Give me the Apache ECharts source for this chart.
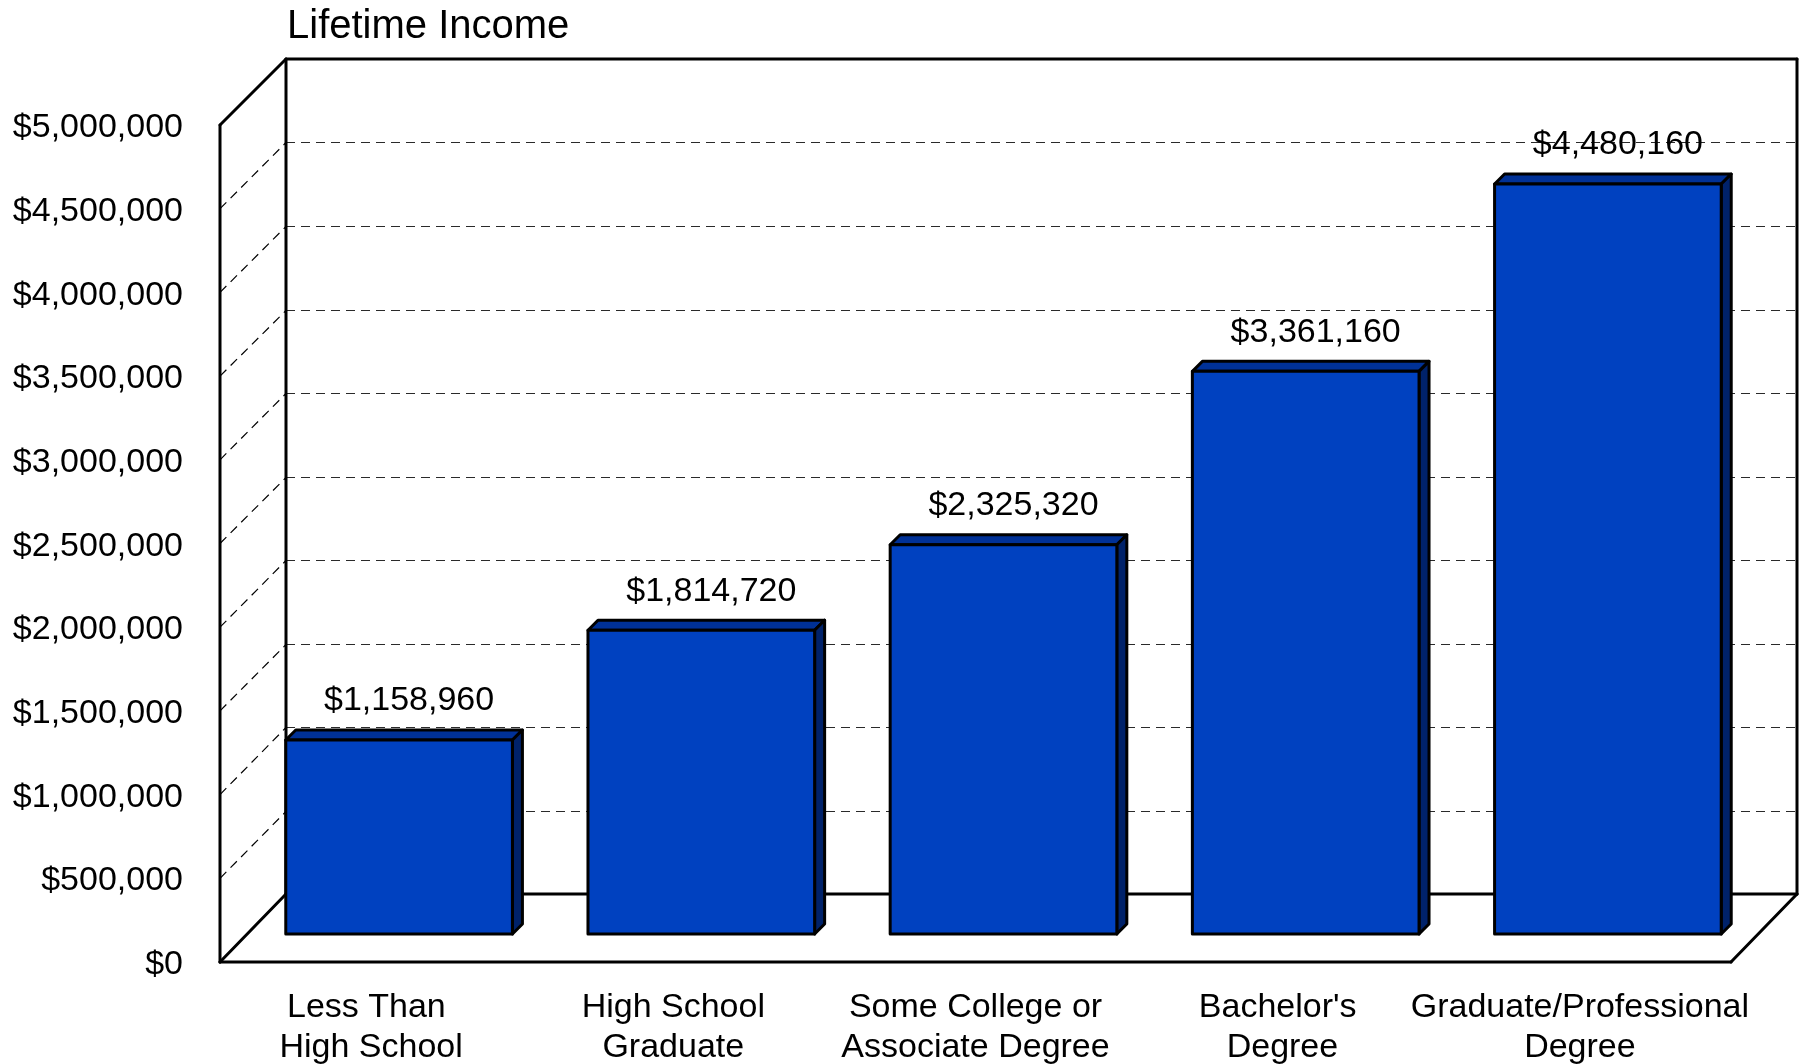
<!DOCTYPE html>
<html>
<head>
<meta charset="utf-8">
<style>html,body{margin:0;padding:0;background:#fff}#c{width:1804px;height:1064px}</style>
<script src="https://cdn.jsdelivr.net/npm/echarts@6/dist/echarts.min.js"></script>
</head>
<body>
<div id="c"></div>
<script>
const categories = ["Less Than \nHigh School", "High School\nGraduate", "Some College or\nAssociate Degree", "Bachelor's\n Degree", "Graduate/Professional\nDegree"];
const values = [1158960, 1814720, 2325320, 3361160, 4480160];
const valueLabels = ["$1,158,960", "$1,814,720", "$2,325,320", "$3,361,160", "$4,480,160"];
const yTicks = [0, 500000, 1000000, 1500000, 2000000, 2500000, 3000000, 3500000, 4000000, 4500000, 5000000];
const yTickLabels = ["$0", "$500,000", "$1,000,000", "$1,500,000", "$2,000,000", "$2,500,000", "$3,000,000", "$3,500,000", "$4,000,000", "$4,500,000", "$5,000,000"];

const FONT = '"Liberation Sans", Arial, sans-serif';
const wallDX = 66, wallDYBottom = 68, wallDYTop = 66;
const barShiftX = 28, barShiftY = 28, barDepth = 10;
const yMax = 5000000;
const frontColor = '#0041C0', topColor = '#003197', sideColor = '#00226A';

function line(x1, y1, x2, y2, style) {
  return {type: 'line', shape: {x1, y1, x2, y2}, style};
}
function poly(points, fill) {
  return {type: 'polygon', shape: {points}, style: {fill, stroke: '#000', lineWidth: 3, lineJoin: 'round'}};
}
function wallDY(v) {
  return wallDYBottom + (wallDYTop - wallDYBottom) * v / yMax;
}

function renderGrid(params, api) {
  const rect = params.coordSys;
  const v = api.value(0);
  if (v === 0 || v === yMax) return {type: 'group', children: []};
  const y = api.coord([0, v])[1];
  const left = rect.x, right = rect.x + rect.width;
  const st = {stroke: '#2a2a2a', lineWidth: 1, lineDash: [9, 6]};
  const diag = {stroke: '#000', lineWidth: 1.2, lineDash: [9, 6]};
  const by = Math.round(y - wallDY(v)) + 0.5;
  return {type: 'group', children: [
    line(left + wallDX, by, right + wallDX, by, st),
    line(left, y, left + wallDX, by, diag)
  ]};
}

function renderFrame(params, api) {
  const rect = params.coordSys;
  const l = rect.x, r = rect.x + rect.width, t = rect.y, b = rect.y + rect.height;
  const st = {stroke: '#000', lineWidth: 3, lineCap: 'round'};
  const bl = l + wallDX, br = r + wallDX, bt = t - wallDYTop, bb = b - wallDYBottom;
  return {type: 'group', children: [
    line(l, t, l, b, st), line(l, t, bl, bt, st), line(bl, bt, br, bt, st),
    line(bl, bt, bl, bb, st), line(br, bt, br, bb, st), line(bl, bb, br, bb, st),
    line(l, b, r, b, st), line(l, b, bl, bb, st), line(r, b, br, bb, st)
  ]};
}

function renderBar(params, api) {
  const i = api.value(0);
  const top = api.coord([i, api.value(1)]);
  const bot = api.coord([i, 0]);
  const band = api.size([1, 0])[0];
  const w = band * 0.75;
  const x0 = top[0] - w / 2 + barShiftX, x1 = x0 + w;
  const y0 = top[1] - barShiftY, y1 = bot[1] - barShiftY;
  const d = barDepth;
  return {type: 'group', children: [
    poly([[x0, y0], [x0 + d, y0 - d], [x1 + d, y0 - d], [x1, y0]], topColor),
    poly([[x1, y0], [x1 + d, y0 - d], [x1 + d, y1 - d], [x1, y1]], sideColor),
    poly([[x0, y0], [x1, y0], [x1, y1], [x0, y1]], frontColor),
    {type: 'text', style: {
      x: (x0 + x1) / 2 + 10, y: y0 - 39, text: valueLabels[i],
      font: '34px ' + FONT, fill: '#000', align: 'center', verticalAlign: 'middle'
    }, z2: 100}
  ]};
}

const chart = echarts.init(document.getElementById('c'), null, {renderer: 'canvas'});
chart.setOption({
  animation: false,
  backgroundColor: '#fff',
  title: {
    text: 'Lifetime Income', left: 282, top: 2,
    textStyle: {fontFamily: FONT, fontSize: 40, fontWeight: 'normal', color: '#000'}
  },
  grid: {left: 220, top: 125, width: 1511, height: 837, containLabel: false, outerBoundsMode: 'none'},
  xAxis: {
    type: 'category', data: categories,
    axisLine: {show: false}, axisTick: {show: false}, splitLine: {show: false},
    axisLabel: {interval: 0, margin: 26, color: '#000', fontFamily: FONT, fontSize: 34, lineHeight: 40, hideOverlap: false}
  },
  yAxis: {
    type: 'value', min: 0, max: yMax, interval: 500000,
    axisLine: {show: false}, axisTick: {show: false}, splitLine: {show: false},
    axisLabel: {
      margin: 37, color: '#000', fontFamily: FONT, fontSize: 34, verticalAlign: 'top', lineHeight: 5.5,
      formatter: v => yTickLabels[yTicks.indexOf(v)]
    }
  },
  series: [
    {type: 'custom', silent: true, clip: false, z: 1, renderItem: renderGrid, data: yTicks.map(v => [v]), encode: {y: 0}},
    {type: 'custom', silent: true, clip: false, z: 2, renderItem: renderFrame, data: [[0]]},
    {type: 'custom', silent: true, clip: false, z: 3, renderItem: renderBar,
     data: values.map((v, i) => [i, v]), encode: {x: 0, y: 1}}
  ]
});
</script>
</body>
</html>
